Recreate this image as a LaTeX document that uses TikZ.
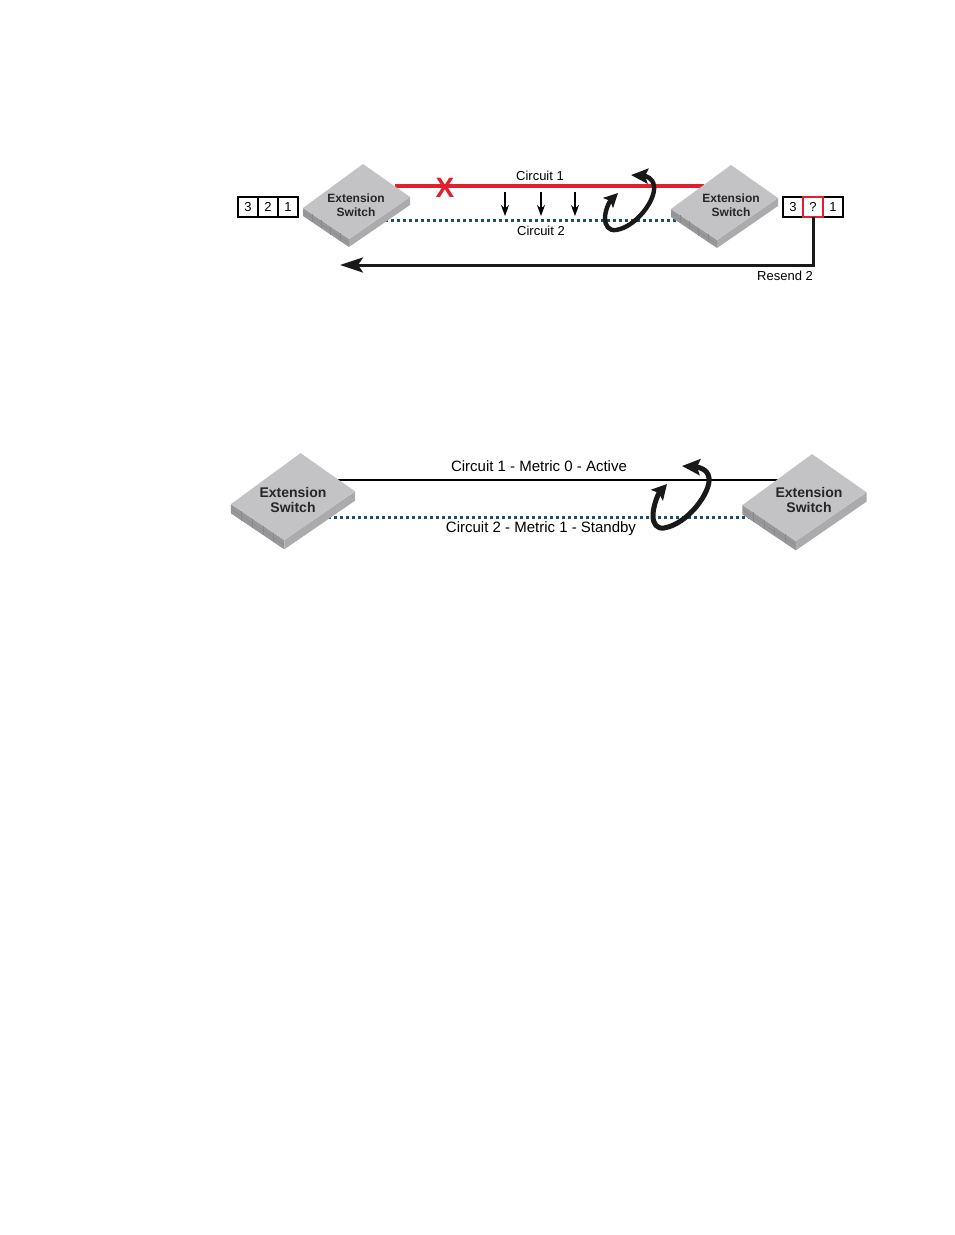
\documentclass[tikz,border=0pt]{standalone}
\usepackage{fontspec}
\setmainfont{Liberation Sans}
\usepackage{xcolor}
\usepackage{tikz}
\usetikzlibrary{arrows.meta, positioning}

\definecolor{faceGray}{HTML}{C3C3C5}
\definecolor{sideGray}{HTML}{ABABAD}
\definecolor{frontGray}{HTML}{98989B}
\definecolor{ribGray}{HTML}{888889}
\definecolor{failRed}{HTML}{E0202E}
\definecolor{standbyBlue}{HTML}{1D5068}

% body of a switch, text goes on top as its own node
\newcommand{\switchbody}[3]{%
    \begin{scope}[shift={(#1,#2)}, scale=#3]
        \fill[frontGray] (-53.5,7) -- (-7.5,38) -- (-7.5,46) -- (-53.5,15) -- cycle;
        \fill[sideGray] (-7.5,38) -- (53.5,-4) -- (53.5,4) -- (-7.5,46) -- cycle;
        \fill[faceGray] (6.5,-37) -- (53.5,-4) -- (-7.5,38) -- (-53.5,7) -- cycle;
        \foreach \t in {0.2,0.4,0.6,0.8} {
            \draw[ribGray, line width=0.3pt] ({-53.5+46*\t},{7+31*\t}) -- ++(0,8);
        }
        \draw[ribGray, line width=0.3pt] (-53.5,11) -- (-7.5,42);
    \end{scope}
}

\begin{document}
\begin{tikzpicture}[
    x=1pt, y=-1pt,
    switchsmall/.style={align=center, inner sep=0pt, text=black!85,
                        font=\fontsize{12}{13.5}\selectfont\bfseries},
    switchlarge/.style={align=center, inner sep=0pt, text=black!85,
                        font=\fontsize{14}{15}\selectfont\bfseries},
    cell/.style={rectangle, draw, line width=1.4pt, minimum width=20pt, minimum height=20pt,
                 inner sep=0pt, outer sep=0pt, font=\fontsize{13}{14}\selectfont},
    lblsmall/.style={inner sep=0pt, font=\fontsize{13}{14}\selectfont},
    lbllarge/.style={inner sep=0pt, font=\fontsize{15}{16}\selectfont},
    failed/.style={failRed, line width=3.4pt},
    plain/.style={black, line width=1.8pt},
    standby/.style={standbyBlue, line width=3pt, dash pattern=on 2.8pt off 3.2pt},
    drop/.style={-{Stealth[length=11pt, width=8pt]}, line width=1.1pt},
    resend/.style={-{Stealth[length=23pt, width=15pt, inset=5pt]}, line width=3pt, black!90},
    loopsmall/.style={{Stealth[length=14pt, width=14pt, inset=3pt]}-{Stealth[length=17pt, width=15pt, inset=3pt]},
                      line width=4.4pt, black!90},
    looplarge/.style={{Stealth[length=15pt, width=16pt, inset=3pt]}-{Stealth[length=18pt, width=16pt, inset=3pt]},
                      line width=5pt, black!90}
]
    \useasboundingbox[fill=white] (0,0) rectangle (954,1235);

    % Upper diagram
    \coordinate (failL)  at (395,186);
    \coordinate (failR)  at (704,186);
    \coordinate (stbyL)  at (385,220);
    \coordinate (stbyR)  at (682,220);
    \draw[failed]  (failL) -- (failR);
    \draw[standby] (stbyL) -- (stbyR);

    \switchbody{356.5}{201}{1}
    \switchbody{724.5}{202}{1}
    \node[switchsmall] (swUL) at (356,205) {Extension\\Switch};
    \node[switchsmall] (swUR) at (731,205) {Extension\\Switch};

    \node[inner sep=0pt, text=failRed, font=\fontsize{28}{29}\selectfont\bfseries] (cross) at (445,188) {X};
    \node[lblsmall] (circA) at (540,176) {Circuit 1};
    \node[lblsmall] (circB) at (541,231) {Circuit 2};
    \node[lblsmall] (again) at (785,276) {Resend 2};

    % packets
    \node[cell] (sentC) at (248,207) {3};
    \node[cell, right=0pt of sentC] (sentB) {2};
    \node[cell, right=0pt of sentB] (sentA) {1};
    \node[cell] (recvC) at (793,207) {3};
    \node[cell, right=20pt of recvC] (recvA) {1};
    \node[cell, draw=failRed, right=0pt of recvC] (recvB) {?};

    % moved traffic
    \coordinate (dropA1) at (505,192);
    \coordinate (dropA2) at (505,216);
    \coordinate (dropB1) at (541,192);
    \coordinate (dropB2) at (541,216);
    \coordinate (dropC1) at (575,192);
    \coordinate (dropC2) at (575,216);
    \foreach \d in {A,B,C} {
        \draw[drop] (drop\d1) -- (drop\d2);
    }

    \coordinate (resendEnd) at (340,265);
    \draw[resend] (recvB.south) |- (resendEnd);

    \coordinate (turnUa) at (618,193);
    \coordinate (turnUb) at (631,175);
    \draw[loopsmall] (turnUa) .. controls (609,202) and (605,211) .. (605,218)
        .. controls (605,226) and (609,231) .. (616,230)
        .. controls (636,227) and (656,200) .. (654,186)
        .. controls (653,178) and (646,176) .. (turnUb);

    % Lower diagram
    \coordinate (actL)  at (338,480);
    \coordinate (actR)  at (778,480);
    \coordinate (stdL)  at (328,517);
    \coordinate (stdR)  at (754,517);
    \draw[plain]   (actL) -- (actR);
    \draw[standby] (stdL) -- (stdR);

    \switchbody{293}{496}{1.16}
    \switchbody{804.5}{497}{1.16}
    \node[switchlarge] (swLL) at (293,500) {Extension\\Switch};
    \node[switchlarge] (swLR) at (809,500) {Extension\\Switch};

    \node[lbllarge] (metA) at (539,466) {Circuit 1 - Metric 0 - Active};
    \node[lbllarge] (metB) at (541,529) {Circuit 2 - Metric 1 - Standby};

    \coordinate (turnLa) at (667,484);
    \coordinate (turnLb) at (682,466);
    \draw[looplarge] (turnLa) .. controls (658,494) and (653,506) .. (653,516)
        .. controls (653,524) and (657,529) .. (664,528)
        .. controls (688,524) and (711,492) .. (709,478)
        .. controls (708,469) and (698,467) .. (turnLb);
\end{tikzpicture}
\end{document}
